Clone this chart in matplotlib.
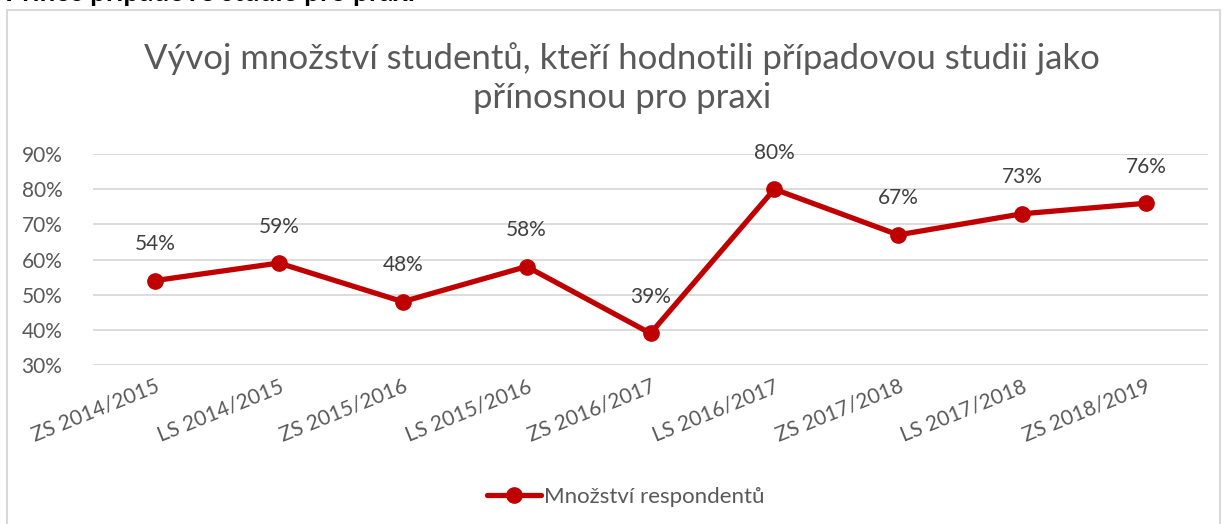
import matplotlib.pyplot as plt
from matplotlib.patches import Rectangle

plt.rcParams['font.family'] = ['Lato', 'DejaVu Sans']

# Data
semesters = ['ZS 2014/2015', 'LS 2014/2015', 'ZS 2015/2016', 'LS 2015/2016',
             'ZS 2016/2017', 'LS 2016/2017', 'ZS 2017/2018', 'LS 2017/2018',
             'ZS 2018/2019']
values = [54, 59, 48, 58, 39, 80, 67, 73, 76]
y_ticks = [30, 40, 50, 60, 70, 80, 90]

title = 'Vývoj množství studentů, kteří hodnotili případovou studii jako\npřínosnou pro praxi'
series_name = 'Množství respondentů'

red = '#C00000'
grey = '#595959'

W, H = 1223, 524
fig = plt.figure(figsize=(W / 100, H / 100), dpi=100)

# chart border
fig.patches.append(Rectangle((7 / W, -0.01), (1220 - 7) / W, 1 - 10 / H + 0.01,
                             transform=fig.transFigure, fill=False,
                             edgecolor='#D9D9D9', linewidth=1.5))

# heading above the chart, cut off by the top edge as in the source
fig.text(5 / W, 1 - 0.5 / H, 'Přínos případové studie pro praxi',
         fontsize=20, fontweight='bold', color='black', va='baseline')

ax = fig.add_axes([93 / W, 1 - 365 / H, (1208 - 93) / W, (365 - 154) / H])
x = list(range(len(semesters)))
ax.plot(x, values, color=red, linewidth=3.8, marker='o', markersize=11,
        label=series_name, solid_capstyle='round')

for xi, v in zip(x, values):
    ax.annotate(f'{v}%', (xi, v), xytext=(0, 19), textcoords='offset points',
                ha='center', va='bottom', fontsize=15, color='#404040')

ax.set_xlim(-0.5, len(semesters) - 0.5)
ax.set_ylim(30, 90)
ax.set_yticks(y_ticks)
ax.set_yticklabels([f'{t}%' for t in y_ticks])
ax.set_xticks(x)
ax.set_xticklabels(semesters, rotation=22, ha='right', rotation_mode='anchor')
ax.tick_params(axis='both', length=0, labelsize=15, labelcolor=grey)
ax.tick_params(axis='y', pad=22)
ax.tick_params(axis='x', pad=8)
ax.grid(axis='y', color='#D9D9D9', linewidth=1.3)
ax.set_axisbelow(True)
for s in ax.spines.values():
    s.set_visible(False)

fig.text(622 / W, 1 - 78 / H, title, ha='center', va='center',
         fontsize=25, color=grey, linespacing=1.3)

fig.legend(loc='center', bbox_to_anchor=(626 / W, 1 - 497 / H), frameon=False,
           fontsize=16, labelcolor=grey, handlelength=2.4, handletextpad=0.15)

fig.savefig('out.png', dpi=100)
